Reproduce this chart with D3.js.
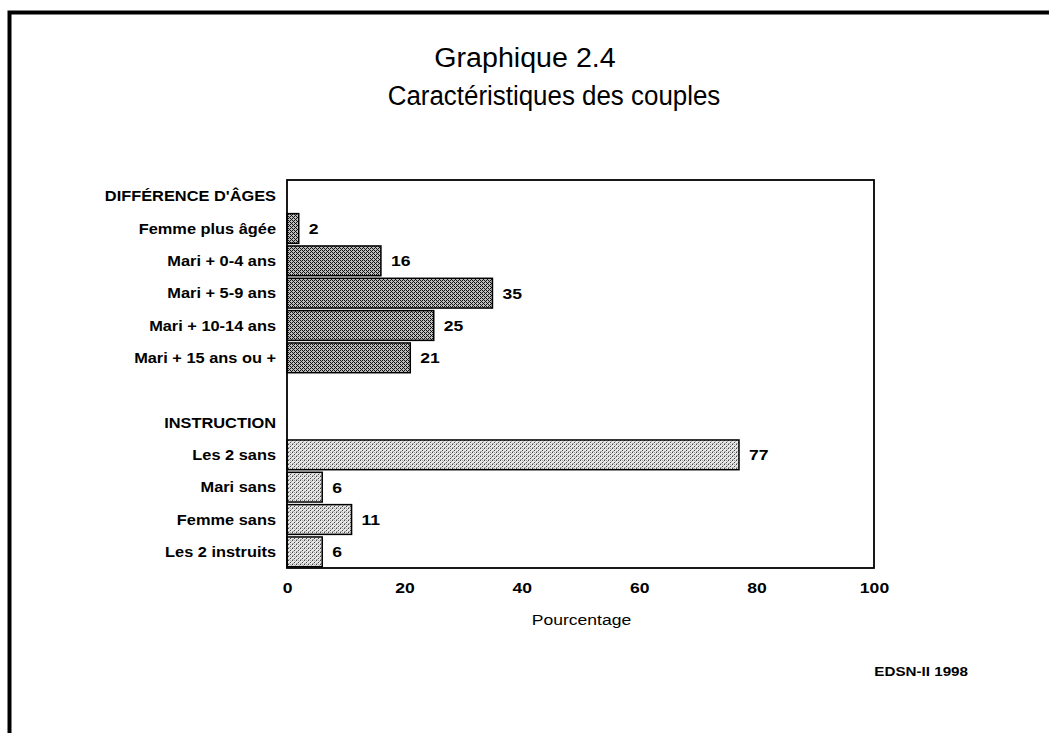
<!DOCTYPE html>
<html>
<head>
<meta charset="utf-8">
<script src="https://cdn.jsdelivr.net/npm/d3@7"></script>
<style>
  body { margin: 0; background: #fff; }
  svg { display: block; }
  text { font-family: "Liberation Sans", Arial, Helvetica, sans-serif; fill: #000; }
</style>
</head>
<body>
<div id="chart"></div>
<script>
'use strict';

// Data ==========================================
var ageHeader = "DIFFÉRENCE D'ÂGES";
var ageCats = ['Femme plus âgée', 'Mari + 0-4 ans', 'Mari + 5-9 ans', 'Mari + 10-14 ans', 'Mari + 15 ans ou +'];
var ageVals = [2, 16, 35, 25, 21];

var instrHeader = 'INSTRUCTION';
var instrCats = ['Les 2 sans', 'Mari sans', 'Femme sans', 'Les 2 instruits'];
var instrVals = [77, 6, 11, 6];

var xTicks = [0, 20, 40, 60, 80, 100];

// Sizing things.
var width = 1049, height = 733;
var plotLeft = 287, plotRight = 874, plotTop = 180, plotBottom = 568;
var stretch = 1.17; // scanned text is a bit wide

// rows: header, items, blank, header, items
var rows = [];
rows.push({ key: 'h1', label: ageHeader, header: true });
ageCats.forEach(function (c, i) { rows.push({ key: 'a' + i, label: c, value: ageVals[i], group: 'age' }); });
rows.push({ key: 'blank', label: '' });
rows.push({ key: 'h2', label: instrHeader, header: true });
instrCats.forEach(function (c, i) { rows.push({ key: 'i' + i, label: c, value: instrVals[i], group: 'instr' }); });

var svg = d3.select('#chart').append('svg')
  .attr('width', width)
  .attr('height', height);

// textures for the bars
var defs = svg.append('defs');
var dark = defs.append('pattern')
  .attr('id', 'darkFill').attr('patternUnits', 'userSpaceOnUse')
  .attr('width', 4).attr('height', 4);
dark.append('rect').attr('width', 4).attr('height', 4).attr('fill', '#bdbdbd');
[[0, 0], [2, 2], [1, 1], [3, 3], [2, 0], [0, 2]].forEach(function (p) {
  dark.append('rect').attr('x', p[0]).attr('y', p[1]).attr('width', 1).attr('height', 1).attr('fill', '#111');
});

var light = defs.append('pattern')
  .attr('id', 'lightFill').attr('patternUnits', 'userSpaceOnUse')
  .attr('width', 4).attr('height', 4);
light.append('rect').attr('width', 4).attr('height', 4).attr('fill', '#e8e8e8');
[[0, 0], [2, 2]].forEach(function (p) {
  light.append('rect').attr('x', p[0]).attr('y', p[1]).attr('width', 1).attr('height', 1).attr('fill', '#444');
});
[[1, 3], [3, 1], [2, 0], [0, 3]].forEach(function (p) {
  light.append('rect').attr('x', p[0]).attr('y', p[1]).attr('width', 1).attr('height', 1).attr('fill', '#aaa');
});

// outer frame (only top and left edges show in the scan)
svg.append('path')
  .attr('d', 'M9.5,' + height + 'V12.5H' + width)
  .attr('fill', 'none')
  .attr('stroke', '#000')
  .attr('stroke-width', 4);

// helper for wide text
function wideText(sel, x, y, txt, anchor, size, weight, sx) {
  return sel.append('text')
    .attr('transform', 'translate(' + x + ',' + y + ') scale(' + (sx || stretch) + ',1)')
    .attr('text-anchor', anchor)
    .style('font-size', size + 'px')
    .style('font-weight', weight)
    .text(txt);
}

// titles
wideText(svg, 525, 67, 'Graphique 2.4', 'middle', 27, 'normal', 1.06);
wideText(svg, 554, 105, 'Caractéristiques des couples', 'middle', 27, 'normal', 0.96);

// scales
var x = d3.scaleLinear().domain([0, 100]).range([plotLeft, plotRight]);
var y = d3.scaleBand()
  .domain(rows.map(function (d) { return d.key; }))
  .range([plotTop, plotBottom])
  .paddingInner(0.08)
  .paddingOuter(0.04);

// bars
var barRows = rows.filter(function (d) { return d.value !== undefined; });

svg.append('g').selectAll('rect')
  .data(barRows)
  .enter().append('rect')
  .attr('x', x(0))
  .attr('y', function (d) { return y(d.key); })
  .attr('width', function (d) { return x(d.value) - x(0); })
  .attr('height', y.bandwidth())
  .attr('fill', function (d) { return d.group === 'age' ? 'url(#darkFill)' : 'url(#lightFill)'; })
  .attr('stroke', '#000')
  .attr('stroke-width', 1.5);

// value labels
barRows.forEach(function (d) {
  wideText(svg, x(d.value) + 10, y(d.key) + y.bandwidth() / 2 + 5.5, d.value, 'start', 15, 'bold');
});

// category labels
rows.forEach(function (d) {
  if (!d.label) return;
  wideText(svg, 276, y(d.key) + y.bandwidth() / 2 + 5, d.label, 'end', 14, 'bold');
});

// plot frame
svg.append('rect')
  .attr('x', plotLeft).attr('y', plotTop)
  .attr('width', plotRight - plotLeft).attr('height', plotBottom - plotTop)
  .attr('fill', 'none')
  .attr('stroke', '#000')
  .attr('stroke-width', 1.8);

// x axis
var xAxis = svg.append('g')
  .attr('transform', 'translate(0,' + plotBottom + ')')
  .call(d3.axisBottom(x).tickValues(xTicks).tickSize(0).tickPadding(14));
xAxis.select('.domain').remove();
xAxis.selectAll('text')
  .attr('transform', 'scale(' + stretch + ',1)')
  .style('font-size', '15px')
  .style('font-weight', 'bold')
  .style('font-family', '"Liberation Sans", Arial, sans-serif');

wideText(svg, (plotLeft + plotRight) / 2 + 1, 625, 'Pourcentage', 'middle', 15, 'normal');

// source
wideText(svg, 968, 676, 'EDSN-II 1998', 'end', 13, 'bold');
</script>
</body>
</html>
